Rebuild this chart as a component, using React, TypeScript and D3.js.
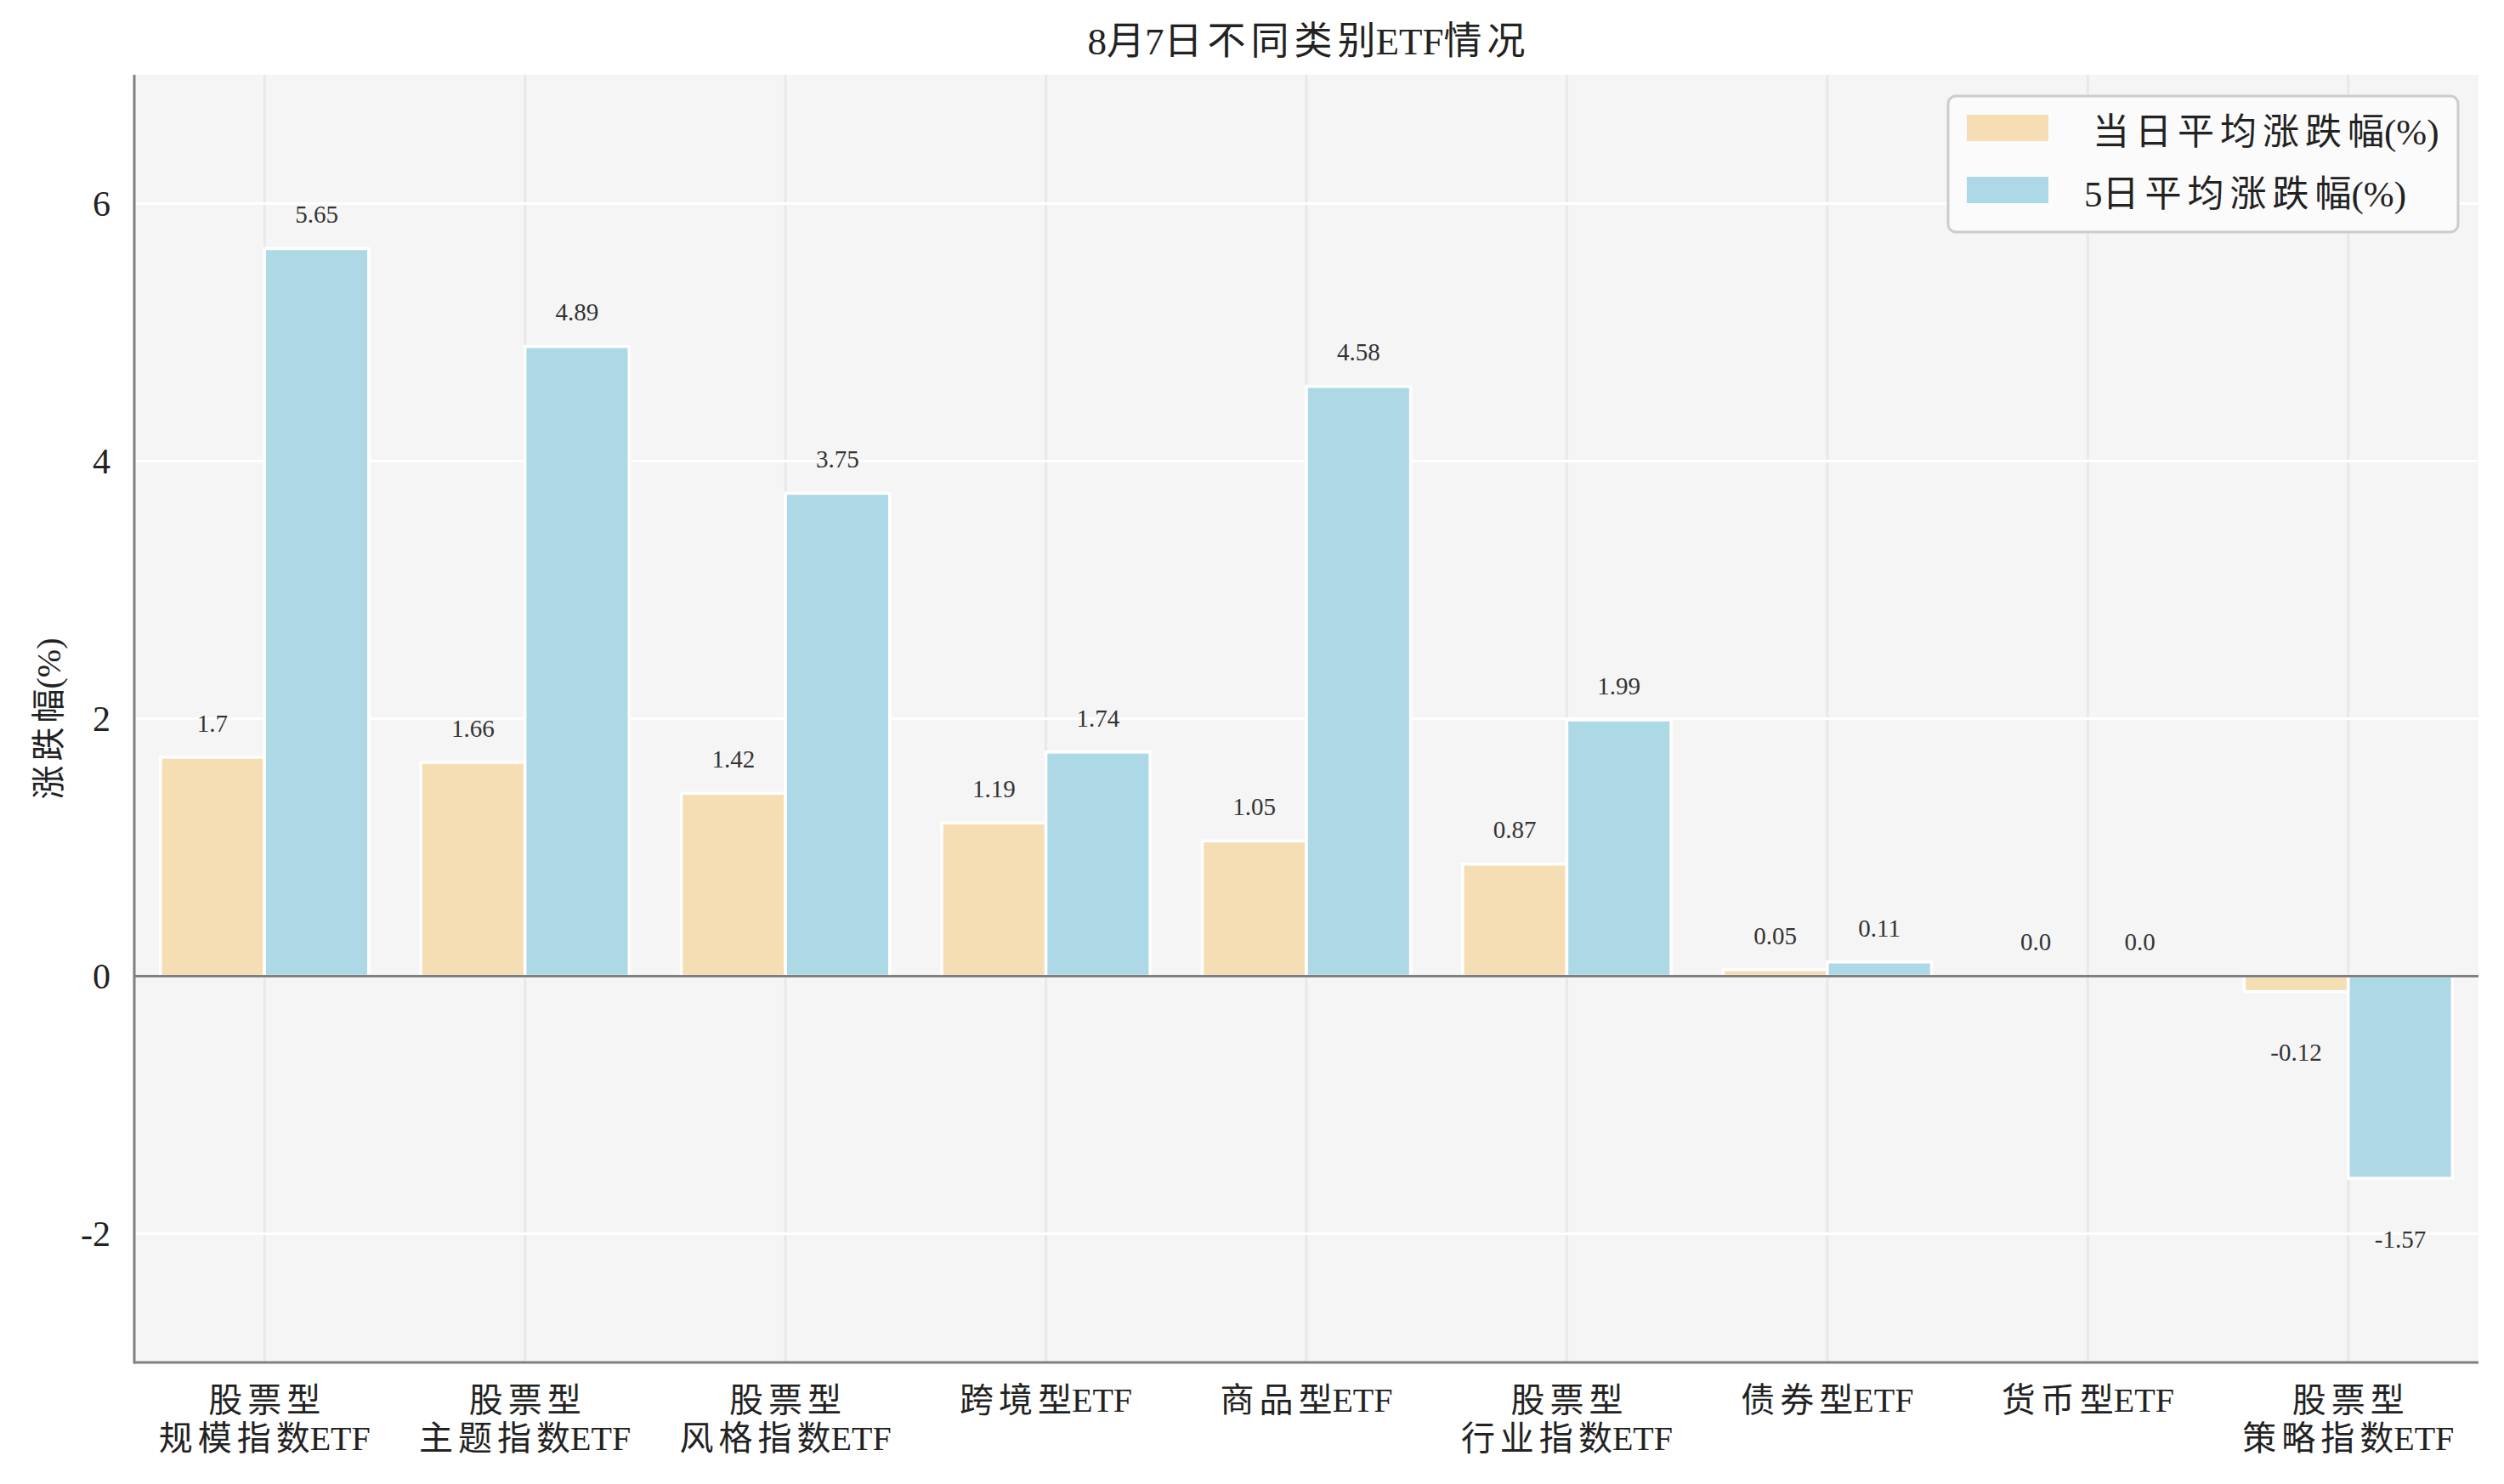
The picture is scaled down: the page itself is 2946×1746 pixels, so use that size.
import React from "react";
import * as d3 from "d3";

const categories = [
  ["股票型", "规模指数ETF"],
  ["股票型", "主题指数ETF"],
  ["股票型", "风格指数ETF"],
  ["跨境型ETF"],
  ["商品型ETF"],
  ["股票型", "行业指数ETF"],
  ["债券型ETF"],
  ["货币型ETF"],
  ["股票型", "策略指数ETF"],
];
const dayChange = [1.7, 1.66, 1.42, 1.19, 1.05, 0.87, 0.05, 0.0, -0.12];
const fiveDayChange = [5.65, 4.89, 3.75, 1.74, 4.58, 1.99, 0.11, 0.0, -1.57];
const yTicks = [-2, 0, 2, 4, 6];
const seriesNames = ["当日平均涨跌幅(%)", "5日平均涨跌幅(%)"];
const seriesColors = ["#f5deb3", "#add8e6"];

const FONT = '"Liberation Serif", "Noto Sans CJK SC", serif';

const fmt = (v: number) => (Number.isInteger(v) ? v.toFixed(1) : String(v));

// wider spacing between CJK characters only; latin and run edges stay tight
const spaced = (s: string, gap: number) => {
  const runs = s.match(/[\u3000-\u9fff]+|[^\u3000-\u9fff]+/g) || [];
  const out: React.ReactNode[] = [];
  runs.forEach((run, k) => {
    if (/[\u3000-\u9fff]/.test(run) && run.length > 1) {
      out.push(
        <tspan key={k + "a"} letterSpacing={gap}>
          {run.slice(0, -1)}
        </tspan>
      );
      out.push(
        <tspan key={k + "b"} letterSpacing={0}>
          {run.slice(-1)}
        </tspan>
      );
    } else {
      out.push(
        <tspan key={k} letterSpacing={0}>
          {run}
        </tspan>
      );
    }
  });
  return out;
};

const App: React.FC = () => {
  const width = 2946;
  const height = 1746;
  const margin = { left: 158, right: 30, top: 88, bottom: 143 };
  const x0 = margin.left;
  const x1 = width - margin.right;
  const yTop = margin.top;
  const yBot = height - margin.bottom;

  const x = d3
    .scaleBand<number>()
    .domain(categories.map((_, i) => i))
    .range([x0, x1])
    .padding(0);
  const bw = x.bandwidth();
  const y = d3.scaleLinear().domain([-3, 7]).range([yBot, yTop]);

  const series = [dayChange, fiveDayChange];

  return (
    <svg
      width={width}
      height={height}
      style={{ position: "absolute", left: 0, top: 0, display: "block" }}
      fontFamily={FONT}
    >
      <rect x={0} y={0} width={width} height={height} fill="#ffffff" />
      {/* plot background */}
      <rect x={x0} y={yTop} width={x1 - x0} height={yBot - yTop} fill="#f5f5f5" />

      {/* vertical grid */}
      {categories.map((_, i) => (
        <line
          key={"vg" + i}
          x1={x(i)! + bw / 2}
          x2={x(i)! + bw / 2}
          y1={yTop}
          y2={yBot}
          stroke="#e8e8e8"
          strokeWidth={3}
        />
      ))}
      {/* horizontal grid */}
      {yTicks.map((t) => (
        <line
          key={"hg" + t}
          x1={x0}
          x2={x1}
          y1={y(t)}
          y2={y(t)}
          stroke="#ffffff"
          strokeWidth={3}
        />
      ))}

      {/* bars */}
      {series.map((vals, s) =>
        vals.map((v, i) => {
          const bx = x(i)! + bw * (0.1 + 0.4 * s);
          const top = y(Math.max(0, v));
          const h = Math.abs(y(v) - y(0));
          return (
            <rect
              key={`b${s}-${i}`}
              x={bx}
              y={top}
              width={bw * 0.4}
              height={h}
              fill={seriesColors[s]}
              stroke="#ffffff"
              strokeWidth={3.5}
            />
          );
        })
      )}

      {/* zero line */}
      <line x1={x0} x2={x1} y1={y(0)} y2={y(0)} stroke="#808080" strokeWidth={3} />

      {/* value labels */}
      {series.map((vals, s) =>
        vals.map((v, i) => {
          const cx = x(i)! + bw * (0.3 + 0.4 * s);
          const neg = v < 0;
          return (
            <text
              key={`l${s}-${i}`}
              x={cx}
              y={neg ? y(v - 0.4) : y(v + 0.2)}
              dy={neg ? "0.72em" : "0"}
              textAnchor="middle"
              fontSize={29}
              fill="#333333"
            >
              {fmt(v)}
            </text>
          );
        })
      )}

      {/* spines */}
      <line x1={x0} x2={x0} y1={yTop} y2={yBot + 1.5} stroke="#808080" strokeWidth={3} />
      <line x1={x0} x2={x1} y1={yBot} y2={yBot} stroke="#808080" strokeWidth={3} />

      {/* y ticks */}
      {yTicks.map((t) => (
        <text
          key={"yt" + t}
          x={x0 - 28}
          y={y(t)}
          dy="0.35em"
          textAnchor="end"
          fontSize={42}
          fill="#222222"
        >
          {t}
        </text>
      ))}

      {/* x ticks */}
      {categories.map((lines, i) => (
        <g key={"xt" + i}>
          {lines.map((ln, k) => (
            <text
              key={k}
              x={x(i)! + bw / 2}
              y={yBot + 58 + k * 45}
              textAnchor="middle"
              fontSize={40}
              fill="#222222"
            >
              {spaced(ln, 6)}
            </text>
          ))}
        </g>
      ))}

      {/* y label */}
      <text
        transform={`translate(57, ${(yTop + yBot) / 2}) rotate(-90)`}
        textAnchor="middle"
        dy="0.35em"
        fontSize={40}
        fill="#222222"
      >
        {spaced("涨跌幅(%)", 5)}
      </text>

      {/* title */}
      <text
        x={(x0 + x1) / 2}
        y={48}
        dy="0.35em"
        textAnchor="middle"
        fontSize={45}
        fill="#222222"
      >
        {spaced("8月7日不同类别ETF情况", 6)}
      </text>

      {/* legend */}
      <g>
        <rect
          x={2292}
          y={113}
          width={600}
          height={160}
          rx={9}
          fill="#fbfbfb"
          stroke="#cccccc"
          strokeWidth={3}
        />
        {seriesNames.map((name, k) => (
          <g key={"lg" + k}>
            <rect x={2314} y={135 + k * 73} width={96} height={31} fill={seriesColors[k]} />
            <text
              x={k === 0 ? 2462 : 2452}
              y={155 + k * 73}
              dy="0.35em"
              fontSize={43}
              fill="#222222"
            >
              {spaced(name, 7)}
            </text>
          </g>
        ))}
      </g>
    </svg>
  );
};

export default App;
